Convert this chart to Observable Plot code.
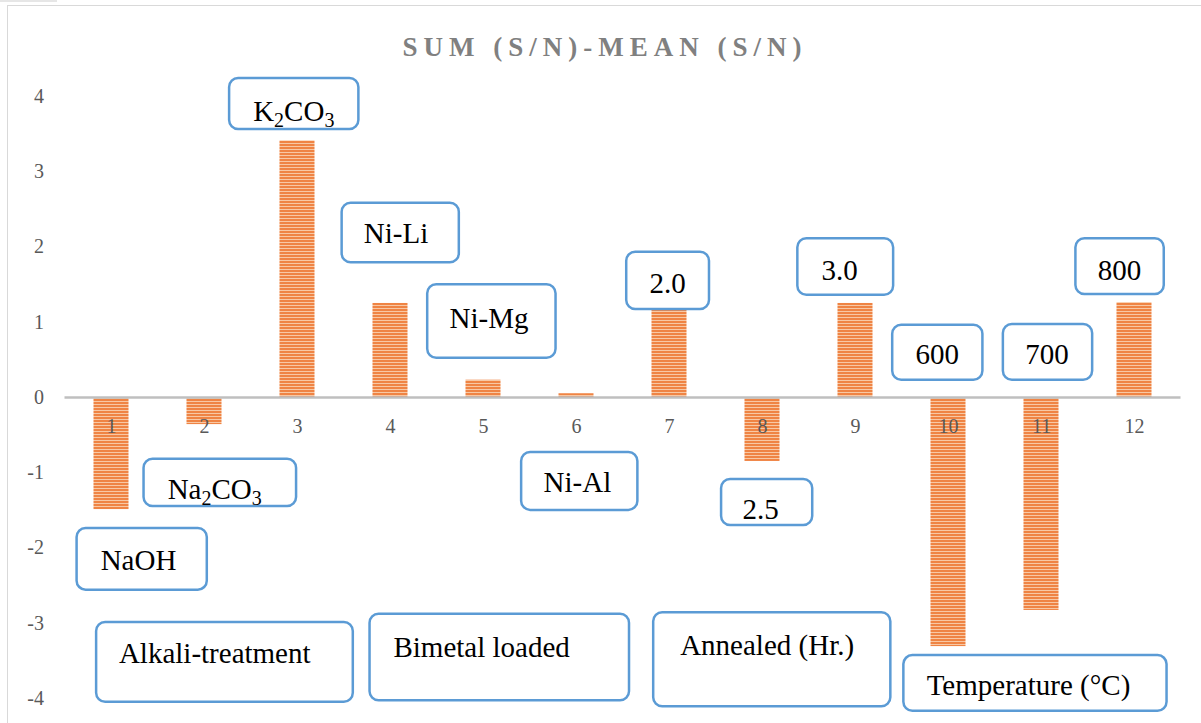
<!DOCTYPE html>
<html><head><meta charset="utf-8">
<script src="https://cdn.jsdelivr.net/npm/d3@7"></script>
<script src="https://cdn.jsdelivr.net/npm/@observablehq/plot@0.6"></script>
<style>
html,body{margin:0;padding:0;background:#fff;}
#wrap{position:relative;width:1201px;height:723px;overflow:hidden;}
#border{position:absolute;left:7px;top:5px;width:1210px;height:730px;border:1.5px solid #d9d9d9;box-sizing:border-box}
#tab{position:absolute;left:0;top:0;width:57px;height:2px;background:#e6e6e6}
#chart{position:absolute;left:0;top:0}
</style></head><body>
<div id="wrap"><div id="border"></div><div id="tab"></div><div id="chart"></div></div>
<script>
// ---- data ----
const title = "SUM (S/N)-MEAN (S/N)";
const categories = [1, 2, 3, 4, 5, 6, 7, 8, 9, 10, 11, 12];
const values = [-1.49, -0.36, 3.41, 1.25, 0.23, 0.05, 1.16, -0.85, 1.25, -3.31, -2.83, 1.26];
const yTicks = [-4, -3, -2, -1, 0, 1, 2, 3, 4];

// annotation labels (text) and their placement in data units (category, value)
const noteText = ["K₂CO₃", "Na₂CO₃", "NaOH", "Ni-Li", "Ni-Mg", "Ni-Al", "2.0", "2.5", "3.0", "600", "700", "800",
  "Alkali-treatment", "Bimetal loaded", "Annealed (Hr.)", "Temperature (°C)"];
const noteX1 = [2.27, 1.35, 0.63, 3.48, 4.40, 5.41, 6.54, 7.56, 8.38, 9.40, 10.59, 11.37, 0.84, 3.78, 6.83, 9.52];
const noteX2 = [3.66, 2.99, 2.03, 4.74, 5.78, 6.66, 7.43, 8.54, 9.41, 10.37, 11.55, 12.32, 3.60, 6.57, 9.38, 12.35];
const noteY1 = [4.24, -0.82, -1.74, 2.58, 1.50, -0.73, 1.93, -1.09, 2.11, 0.96, 0.97, 2.11, -2.99, -2.88, -2.86, -3.43];
const noteY2 = [3.56, -1.45, -2.56, 1.79, 0.52, -1.50, 1.17, -1.70, 1.36, 0.23, 0.23, 1.37, -4.05, -4.03, -4.11, -4.17];
const noteTX = [2.96, 2.11, 1.29, 4.06, 5.06, 6.01, 6.98, 7.98, 8.83, 9.88, 11.06, 11.84, 2.11, 4.98, 8.05, 10.86];
const noteTY = [3.80, -1.22, -2.17, 2.17, 1.05, -1.13, 1.51, -1.49, 1.69, 0.57, 0.57, 1.69, -3.40, -3.32, -3.30, -3.83];

// ---- build ----
const bars = categories.map((c, i) => ({c, v: values[i]}));
const notes = noteText.map((t, i) => ({t, x1: noteX1[i], x2: noteX2[i], y1: noteY1[i], y2: noteY2[i], tx: noteTX[i], ty: noteTY[i]}));
const serif = "'Liberation Serif', 'Times New Roman', Times, serif";

const chart = Plot.plot({
  width: 1201, height: 723,
  marginLeft: 64.5, marginRight: 20.5, marginTop: 96, marginBottom: 25,
  x: {type: "linear", domain: [0.5, 12.5], axis: null},
  y: {domain: [-4, 4], ticks: yTicks, tickSize: 0, tickPadding: 21, label: null, tickFormat: d => String(d)},
  style: {fontFamily: serif, fontSize: "20px", color: "#595959", background: "transparent", overflow: "visible"},
  marks: [
    Plot.rectY(bars, {x1: d => d.c - 0.5, x2: d => d.c + 0.5, y1: 0, y2: "v", insetLeft: 29, insetRight: 29, fill: "url(#hatch)"}),
    Plot.ruleY([0], {stroke: "#bfbfbf", strokeWidth: 2.5}),
    Plot.text(categories, {x: d => d, y: 0, dy: 29, text: d => String(d), fill: "#595959", fontSize: 20, fontFamily: serif}),
    Plot.rect(notes, {x1: "x1", x2: "x2", y1: "y1", y2: "y2", rx: 9, fill: "white", stroke: "#5b9bd5", strokeWidth: 2.5}),
    Plot.text(notes, {x: "tx", y: "ty", text: "t", fontSize: 29, fontFamily: serif, fill: "#000", lineAnchor: "middle"}),
    Plot.text([title], {frameAnchor: "top", dy: -49, dx: -18, text: d => d, fontSize: 27, fontFamily: serif, fontWeight: "bold", fill: "#808080", lineAnchor: "middle"})
  ]
});

// pattern for the horizontally hatched bars
const ns = "http://www.w3.org/2000/svg";
const defs = document.createElementNS(ns, "defs");
defs.innerHTML = '<pattern id="hatch" patternUnits="userSpaceOnUse" width="6" height="3"><rect width="6" height="3" fill="#ef8444"/><rect y="2" width="6" height="1" fill="#f8c8a4"/></pattern>';
chart.insertBefore(defs, chart.firstChild);

// title letter spacing, subscripts
const subMap = {"₀":"0","₁":"1","₂":"2","₃":"3","₄":"4","₅":"5","₆":"6","₇":"7","₈":"8","₉":"9"};
chart.querySelectorAll("text").forEach(el => {
  const s = el.textContent;
  if (s === title) el.setAttribute("letter-spacing", "6");
  if (/[₀-₉]/.test(s) && el.children.length === 0) {
    el.textContent = "";
    let sub = false;
    for (const ch of s) {
      const isSub = ch in subMap;
      const ts = document.createElementNS(ns, "tspan");
      ts.textContent = isSub ? subMap[ch] : ch;
      if (isSub) { ts.setAttribute("font-size", "20"); if (!sub) ts.setAttribute("dy", "6"); }
      else if (sub) ts.setAttribute("dy", "-6");
      sub = isSub;
      el.appendChild(ts);
    }
  }
});
document.getElementById("chart").appendChild(chart);
</script>
</body></html>
